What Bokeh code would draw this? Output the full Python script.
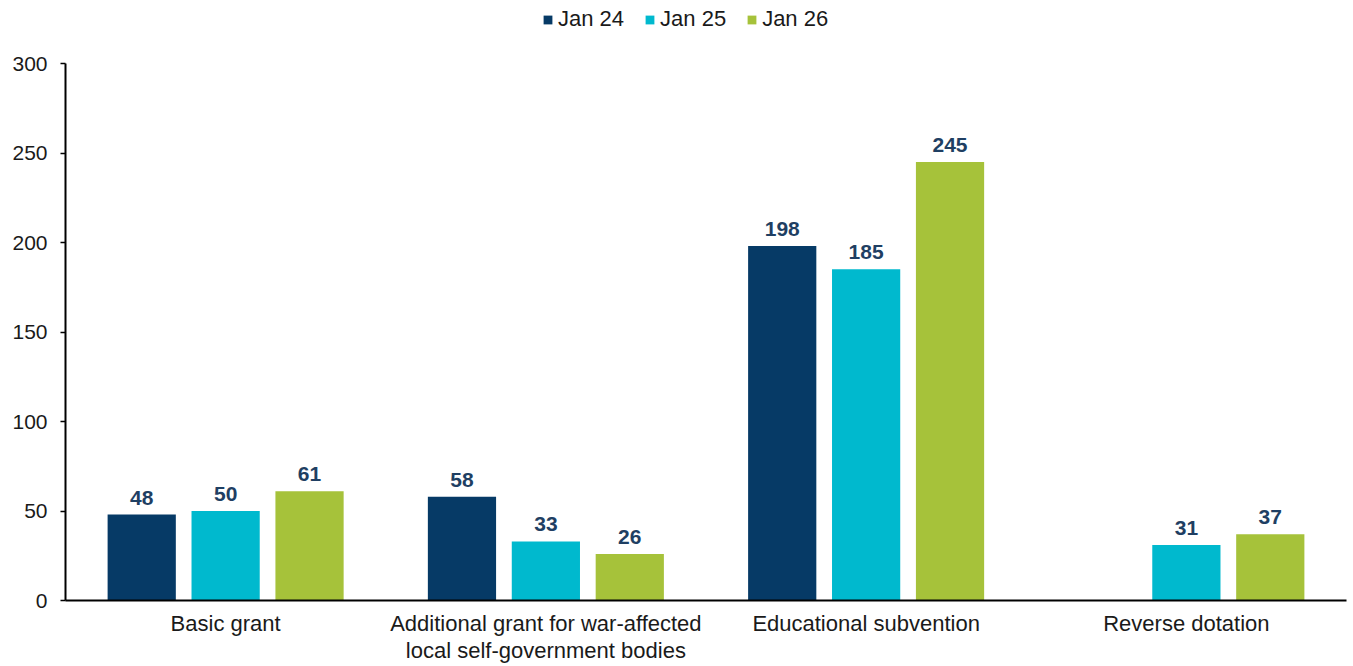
from bokeh.plotting import figure
from bokeh.models import ColumnDataSource, Range1d, FixedTicker, Legend, LegendItem
from bokeh.transform import dodge
from bokeh.core.properties import value
from bokeh.embed import file_html
from bokeh.resources import INLINE
import math

categories = ["Basic grant", "Additional grant for war-affected\nlocal self-government bodies",
              "Educational subvention", "Reverse dotation"]
series = ["Jan 24", "Jan 25", "Jan 26"]
jan24 = [48, 58, 198, float("nan")]
jan25 = [50, 33, 185, 31]
jan26 = [61, 26, 245, 37]
colors = ["#063A66", "#00B9CE", "#A6C23A"]
y_ticks = [0, 50, 100, 150, 200, 250, 300]

xpos = [i + 0.5 for i in range(len(categories))]

def lab(v):
    return [("" if (isinstance(a, float) and math.isnan(a)) else str(int(a))) for a in v]

src = ColumnDataSource(dict(x=xpos, j24=jan24, j25=jan25, j26=jan26,
                            l24=lab(jan24), l25=lab(jan25), l26=lab(jan26)))

# frame spans the full top so the legend can sit inside it; axis bounded to 0..300
p = figure(width=1353, height=666, output_backend="svg", toolbar_location=None,
           x_range=Range1d(0, 4), y_range=Range1d(0, 300 * 600 / 537),
           min_border_left=65, min_border_right=7, min_border_top=0, min_border_bottom=66)
p.outline_line_color = None
p.xgrid.visible = False
p.ygrid.visible = False

offsets = [-0.262, 0.0, 0.262]
cols = ["j24", "j25", "j26"]
labs = ["l24", "l25", "l26"]
renderers = []
for off, c, l, col in zip(offsets, cols, labs, colors):
    r = p.vbar(x=dodge("x", off, range=p.x_range), top=c, width=0.213, bottom=0,
               source=src, fill_color=col, line_color=None)
    renderers.append(r)
    p.text(x=dodge("x", off, range=p.x_range), y=c, text=l, source=src,
           text_align="center", text_baseline="bottom", y_offset=-10,
           text_font=value("Liberation Sans"), text_font_style="bold",
           text_font_size="21px", text_color="#1F3F63")

legend = Legend(items=[LegendItem(label=s, renderers=[r]) for s, r in zip(series, renderers)],
                orientation="horizontal", location=(477, 568),
                glyph_width=11, glyph_height=11, label_standoff=5, spacing=20,
                padding=4, margin=0, border_line_color=None, background_fill_alpha=0,
                label_text_font="Liberation Sans", label_text_font_size="22px",
                label_text_color="#1a1a1a")
p.add_layout(legend, "center")

p.yaxis.ticker = FixedTicker(ticks=y_ticks)
p.yaxis.bounds = (0, 300)
p.yaxis.axis_line_color = "black"
p.yaxis.axis_line_width = 2
p.yaxis.major_tick_line_color = "black"
p.yaxis.major_tick_line_width = 1.5
p.yaxis.major_tick_out = 5
p.yaxis.major_tick_in = 0
p.yaxis.minor_tick_line_color = None
p.yaxis.major_label_standoff = 13
p.yaxis.major_label_text_font = "Liberation Sans"
p.yaxis.major_label_text_font_size = "21px"
p.yaxis.major_label_text_color = "#1a1a1a"

p.xaxis.ticker = FixedTicker(ticks=xpos)
p.xaxis.major_label_overrides = {x: c for x, c in zip(xpos, categories)}
p.xaxis.axis_line_color = "black"
p.xaxis.axis_line_width = 2
p.xaxis.major_tick_line_color = None
p.xaxis.minor_tick_line_color = None
p.xaxis.major_label_standoff = 4
p.xaxis.major_label_text_font = "Liberation Sans"
p.xaxis.major_label_text_font_size = "22px"
p.xaxis.major_label_text_line_height = 1.1
p.xaxis.major_label_text_color = "#1a1a1a"

open("out.html", "w").write(file_html(p, INLINE))
